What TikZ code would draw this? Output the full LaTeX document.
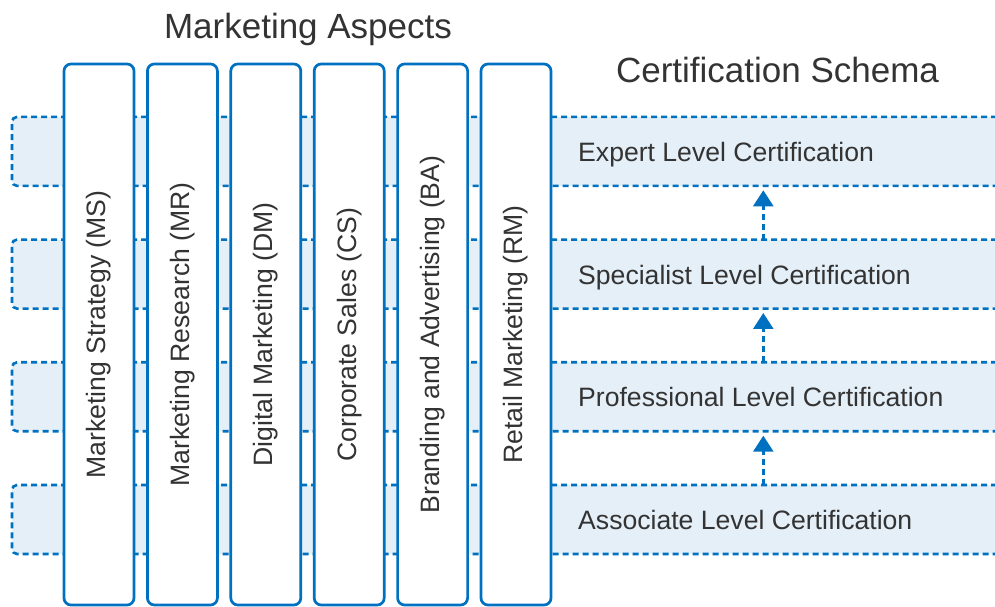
\documentclass[tikz,border=0pt]{standalone}
\usepackage{fontspec}
\setmainfont{Liberation Sans}
\usetikzlibrary{calc, shapes, arrows.meta}
\definecolor{schemablue}{RGB}{0,112,192}
\definecolor{bandfill}{RGB}{229,239,248}
\definecolor{textgray}{RGB}{51,51,51}

\begin{document}
\begin{tikzpicture}[x=1pt, y=1pt,
	levelband/.style={draw=schemablue, fill=bandfill, line width=2.6pt, dash pattern=on 6pt off 4pt, rounded corners=5pt, minimum width=1000pt, minimum height=69pt, inner sep=0pt, outer sep=0pt},
	aspectbox/.style={draw=schemablue, fill=white, line width=2.7pt, rounded corners=7pt, rotate=90, minimum width=541pt, minimum height=70pt, inner sep=0pt, text=textgray},
	leveltext/.style={anchor=base west, inner sep=0pt, text=textgray},
	uparrow/.style={draw=schemablue, line width=2.6pt, dash pattern=on 6pt off 4pt, -{Triangle[width=20pt,length=16pt]}, shorten >=4.4pt}]
\newcommand{\myfonttitle}[1]{
\fontsize{35}{40}\selectfont{#1}
}\newcommand{\myfontbody}[1]{
\fontsize{26.6}{30}\selectfont{#1}
}%Page frame
\useasboundingbox (0,0) rectangle (995,607);
%Headings
\node [anchor=base, inner sep=0pt, text=textgray] (aspects) at (308,568) {\myfonttitle{Marketing Aspects}};
\node [anchor=base, inner sep=0pt, text=textgray] (schema) at (777.5,524.3) {\myfonttitle{Certification Schema}};
%Level bands, from bottom to top
\foreach \i in {1,...,4} {
	\node [levelband] (band\i) at (512,{87.5+122.7*(\i-1)}) {};
}
%Level names
\node [leveltext] (level1) at (578,77.5) {\myfontbody{Associate Level Certification}};
\node [leveltext] (level2) at (578,200.2) {\myfontbody{Professional Level Certification}};
\node [leveltext] (level3) at (578,322.9) {\myfontbody{Specialist Level Certification}};
\node [leveltext] (level4) at (578,445.6) {\myfontbody{Expert Level Certification}};
%Arrows between the levels
\coordinate (arrowx) at (763.3,0);
\foreach \i/\j in {1/2,2/3,3/4} {
	\draw [uparrow] (band\i.north -| arrowx) -- (band\j.south -| arrowx);
}
%Marketing aspects, standing boxes
\foreach \i/\name/\txt in {0/ms/Marketing Strategy (MS), 1/mr/Marketing Research (MR), 2/dm/Digital Marketing (DM), 3/cs/Corporate Sales (CS), 4/ba/Branding and Advertising (BA), 5/rm/Retail Marketing (RM)} {
	\node [aspectbox] (\name) at ({99+83.4*\i},272.5) {\myfontbody{\txt}};
}
\end{tikzpicture}
\end{document}
